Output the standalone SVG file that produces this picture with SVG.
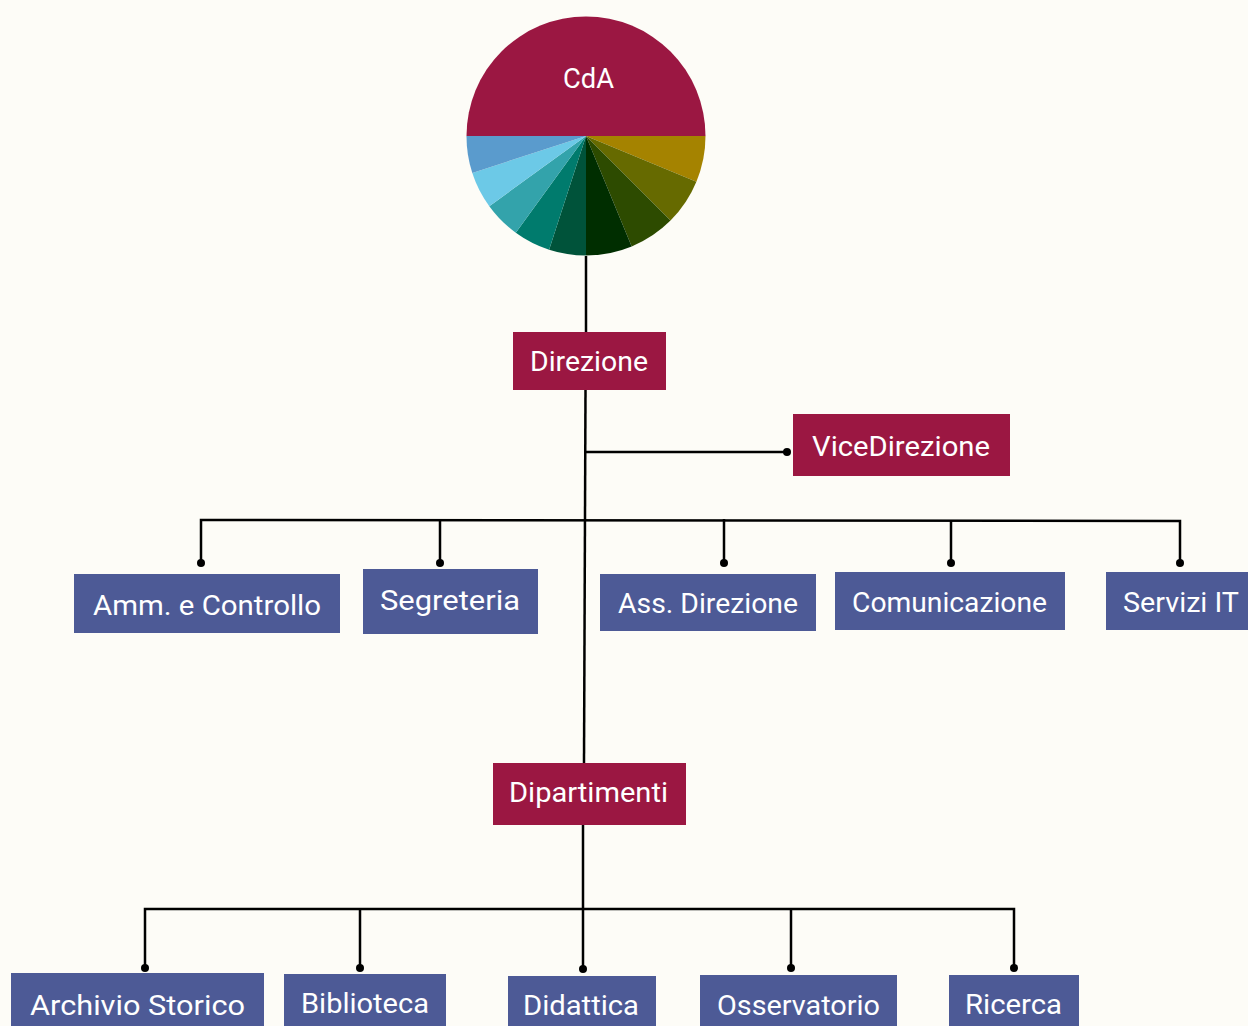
<svg xmlns="http://www.w3.org/2000/svg" width="1248" height="1026" viewBox="0 0 1248 1026">
<defs>
<style>
.bg{fill:#FDFCF7}
.red{fill:#9B1742}
.blue{fill:#4D5A96}
.t{fill:#FFFFFF;font-family:Roboto,"Liberation Sans",sans-serif;font-size:27px;text-anchor:middle}
.ln{fill:none;stroke:#000;stroke-width:2.5}
.dot{fill:#000}
</style>
</defs>
<rect class="bg" x="0" y="0" width="1248" height="1026"/>
<g id="connectors">
<path class="ln" d="M586 256 V332"/>
<path class="ln" d="M585.5 390 L584 763"/>
<path class="ln" d="M585 452 H787"/>
<path class="ln" d="M201 563 V520 L1180 521 V563"/>
<path class="ln" d="M440 563 V520"/>
<path class="ln" d="M724 563 V519"/>
<path class="ln" d="M951 563 V520"/>
<path class="ln" d="M583 825 V969"/>
<path class="ln" d="M145 968 V909 H1014 V968"/>
<path class="ln" d="M360 968 V909"/>
<path class="ln" d="M791 968 V909"/>
<circle class="dot" cx="787" cy="452" r="4"/>
<circle class="dot" cx="201" cy="563" r="4"/>
<circle class="dot" cx="440" cy="563" r="4"/>
<circle class="dot" cx="724" cy="563" r="4"/>
<circle class="dot" cx="951" cy="563" r="4"/>
<circle class="dot" cx="1180" cy="563" r="4"/>
<circle class="dot" cx="145" cy="968" r="4"/>
<circle class="dot" cx="360" cy="968" r="4"/>
<circle class="dot" cx="583" cy="969" r="4"/>
<circle class="dot" cx="791" cy="968" r="4"/>
<circle class="dot" cx="1014" cy="968" r="4"/>
</g>
<g id="cda">
<path class="red" d="M466.5 136 A119.5 119.5 0 0 1 705.5 136 Z"/>
<path fill="#A58300" d="M586 136 L705.5 136 A119.5 119.5 0 0 1 696.4 181.7 Z"/>
<path fill="#666A00" d="M586 136 L696.4 181.7 A119.5 119.5 0 0 1 670.5 220.5 Z"/>
<path fill="#2D4B00" d="M586 136 L670.5 220.5 A119.5 119.5 0 0 1 631.7 246.4 Z"/>
<path fill="#002E00" d="M586 136 L631.7 246.4 A119.5 119.5 0 0 1 586 255.5 Z"/>
<path fill="#00533A" d="M586 136 L586 255.5 A119.5 119.5 0 0 1 549.1 249.7 Z"/>
<path fill="#007B6D" d="M586 136 L549.1 249.7 A119.5 119.5 0 0 1 515.8 232.7 Z"/>
<path fill="#33A3AB" d="M586 136 L515.8 232.7 A119.5 119.5 0 0 1 489.3 206.2 Z"/>
<path fill="#6CC9E7" d="M586 136 L489.3 206.2 A119.5 119.5 0 0 1 472.3 172.9 Z"/>
<path fill="#5A9BCD" d="M586 136 L472.3 172.9 A119.5 119.5 0 0 1 466.5 136 Z"/>
<text class="t" x="588.5" y="88" textLength="51" lengthAdjust="spacingAndGlyphs">CdA</text>
</g>
<g id="direzione">
<rect class="red" x="513" y="332" width="153" height="58"/>
<text class="t" x="589" y="371" textLength="118" lengthAdjust="spacingAndGlyphs">Direzione</text>
</g>
<g id="vicedirezione">
<rect class="red" x="793" y="414" width="217" height="62"/>
<text class="t" x="901" y="456" textLength="178" lengthAdjust="spacingAndGlyphs">ViceDirezione</text>
</g>
<g id="amm">
<rect class="blue" x="74" y="574" width="266" height="59"/>
<text class="t" x="207" y="615" textLength="228" lengthAdjust="spacingAndGlyphs">Amm. e Controllo</text>
</g>
<g id="segreteria">
<rect class="blue" x="363" y="569" width="175" height="65"/>
<text class="t" x="450" y="610" textLength="140" lengthAdjust="spacingAndGlyphs">Segreteria</text>
</g>
<g id="assdirezione">
<rect class="blue" x="600" y="574" width="216" height="57"/>
<text class="t" x="708" y="613" textLength="180" lengthAdjust="spacingAndGlyphs">Ass. Direzione</text>
</g>
<g id="comunicazione">
<rect class="blue" x="835" y="572" width="230" height="58"/>
<text class="t" x="949.5" y="612" textLength="195" lengthAdjust="spacingAndGlyphs">Comunicazione</text>
</g>
<g id="serviziit">
<rect class="blue" x="1106" y="572" width="142" height="58"/>
<text class="t" x="1181" y="612" textLength="116" lengthAdjust="spacingAndGlyphs">Servizi IT</text>
</g>
<g id="dipartimenti">
<rect class="red" x="493" y="763" width="193" height="62"/>
<text class="t" x="588.5" y="802" textLength="159" lengthAdjust="spacingAndGlyphs">Dipartimenti</text>
</g>
<g id="archivio">
<rect class="blue" x="11" y="973" width="253" height="53"/>
<text class="t" x="137.5" y="1015" textLength="215" lengthAdjust="spacingAndGlyphs">Archivio Storico</text>
</g>
<g id="biblioteca">
<rect class="blue" x="284" y="974" width="162" height="52"/>
<text class="t" x="365" y="1013" textLength="128" lengthAdjust="spacingAndGlyphs">Biblioteca</text>
</g>
<g id="didattica">
<rect class="blue" x="508" y="976" width="148" height="50"/>
<text class="t" x="581" y="1015" textLength="116" lengthAdjust="spacingAndGlyphs">Didattica</text>
</g>
<g id="osservatorio">
<rect class="blue" x="700" y="975" width="197" height="51"/>
<text class="t" x="798.5" y="1015" textLength="163" lengthAdjust="spacingAndGlyphs">Osservatorio</text>
</g>
<g id="ricerca">
<rect class="blue" x="949" y="975" width="130" height="51"/>
<text class="t" x="1013.5" y="1014" textLength="97" lengthAdjust="spacingAndGlyphs">Ricerca</text>
</g>
</svg>
